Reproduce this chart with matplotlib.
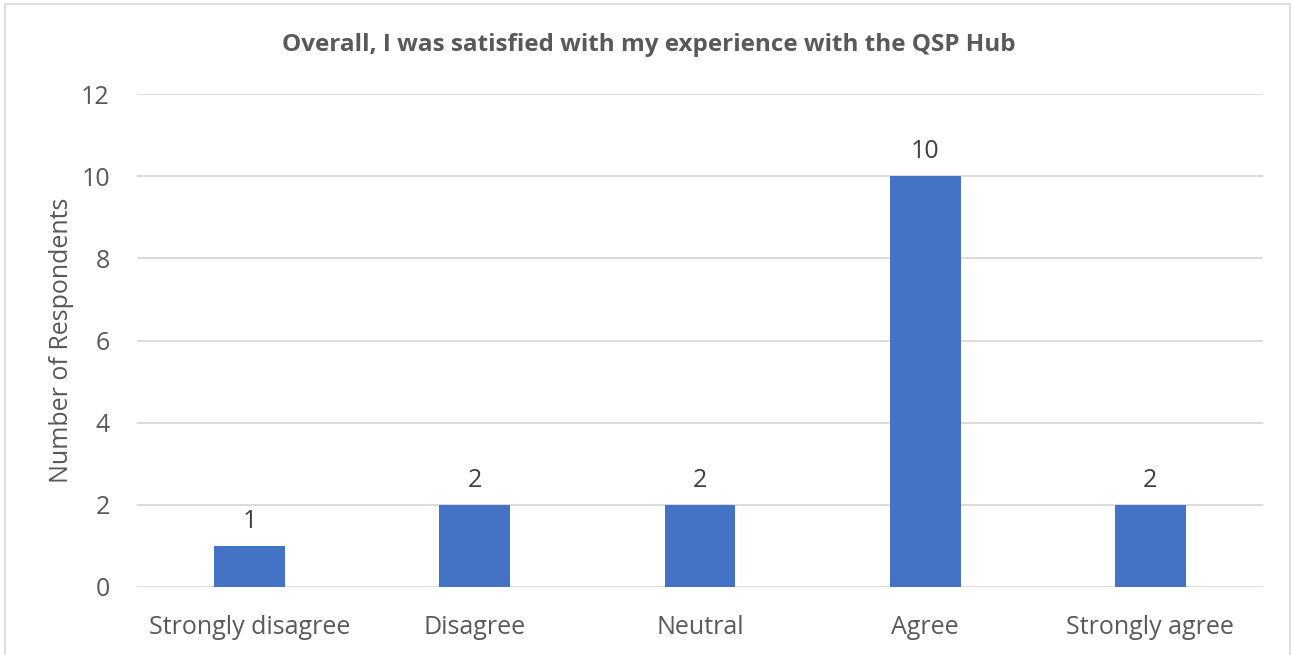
import matplotlib
matplotlib.use("Agg")
import matplotlib.pyplot as plt
from matplotlib.patches import Rectangle

categories = ["Strongly disagree", "Disagree", "Neutral", "Agree", "Strongly agree"]
counts = [1, 2, 2, 10, 2]
yticks = [0, 2, 4, 6, 8, 10, 12]

title = "Overall, I was satisfied with my experience with the QSP Hub"
ylabel = "Number of Respondents"

bar_color = "#4472C4"
text_color = "#595959"
grid_color = "#D9D9D9"

plt.rcParams["font.family"] = ["Open Sans", "DejaVu Sans"]

fig = plt.figure(figsize=(12.94, 6.55), dpi=100)
ax = fig.add_axes([137 / 1294, 1 - 587 / 655, (1263 - 137) / 1294, (587 - 94) / 655])

x = list(range(len(categories)))
bars = ax.bar(x, counts, width=0.315, color=bar_color, zorder=3)
for xi, c in zip(x, counts):
    ax.text(xi, c + 0.3, str(c), ha="center", va="bottom", fontsize=18, color="#404040")

ax.set_xlim(-0.5, len(categories) - 0.5)
ax.set_ylim(0, 12)
ax.set_yticks(yticks)
ax.set_yticklabels([str(t) for t in yticks])
ax.set_xticks(x)
ax.set_xticklabels(categories)
ax.tick_params(axis="both", length=0, labelsize=18, labelcolor=text_color)
ax.tick_params(axis="y", pad=19.5)
ax.tick_params(axis="x", pad=20)
ax.grid(axis="y", color=grid_color, linewidth=1.3, zorder=0)
for s in ax.spines.values():
    s.set_visible(False)
ax.set_ylabel(ylabel, fontsize=18, color=text_color, labelpad=5)

fig.text(649 / 1294, 1 - 45 / 655, title, ha="center", va="center",
         fontsize=17.5, fontweight="bold", color=text_color)

fig.patches.append(Rectangle((5 / 1294, -0.05), (1290 - 5) / 1294, 1 - 4 / 655 + 0.05,
                             transform=fig.transFigure, fill=False,
                             edgecolor=grid_color, linewidth=1.2))

fig.savefig("out.png", dpi=100)
